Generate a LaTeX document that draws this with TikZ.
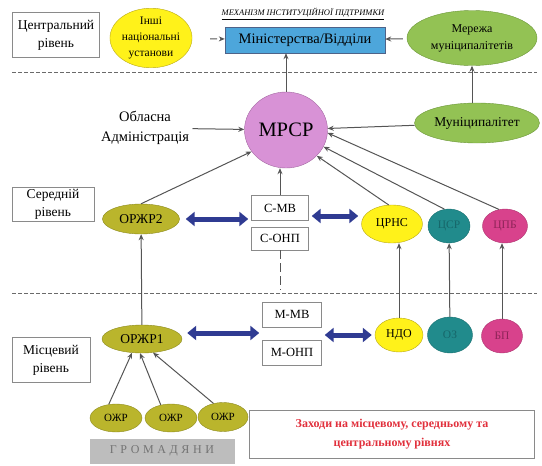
\documentclass[tikz,border=0pt]{standalone}
\usepackage{fontspec}
\setmainfont{Liberation Serif}
\usetikzlibrary{shapes.geometric,arrows.meta}
\definecolor{framegray}{HTML}{8A8A8A}
\definecolor{linegray}{HTML}{555555}
\definecolor{sepgray}{HTML}{6A6A6A}
\definecolor{ministryblue}{HTML}{4DA6DB}
\definecolor{ovyellow}{HTML}{FFF21A}
\definecolor{edgeyellow}{HTML}{B8A818}
\definecolor{ovgreen}{HTML}{93C254}
\definecolor{edgegreen}{HTML}{6B9638}
\definecolor{ovviolet}{HTML}{D892D6}
\definecolor{edgeviolet}{HTML}{A468A2}
\definecolor{ovolive}{HTML}{BAB52C}
\definecolor{edgeolive}{HTML}{8C8A1E}
\definecolor{ovteal}{HTML}{218B8C}
\definecolor{txteal}{HTML}{17676A}
\definecolor{ovpink}{HTML}{D8428C}
\definecolor{txpink}{HTML}{8E2458}
\definecolor{arrowblue}{HTML}{2F3B92}
\definecolor{citizengray}{HTML}{BDBDBD}
\definecolor{measred}{HTML}{E1303C}
\begin{document}
\begin{tikzpicture}[x=1pt,y=-1pt,
    levelbox/.style={draw=framegray,fill=white,align=center,inner sep=0pt,
      font=\fontsize{13.5}{18}\selectfont},
    oval/.style={ellipse,inner sep=0pt,align=center},
    subbox/.style={draw=framegray,fill=white,inner sep=0pt,minimum width=57pt,
      minimum height=25pt,font=\fontsize{12.5}{12}\selectfont},
    link/.style={draw=linegray,line width=1pt,-{Stealth[length=6pt,width=5pt]}},
    twoway/.style={draw=arrowblue,line width=5pt,
      {Triangle[length=9pt,width=14pt]}-{Triangle[length=9pt,width=14pt]},
      shorten <=3pt,shorten >=3pt},
    sep/.style={draw=sepgray,line width=1pt,dash pattern=on 4pt off 2pt}]
  \useasboundingbox (0,0) rectangle (542,466);

  % central level
  \node[levelbox,minimum width=87pt,minimum height=45pt] (central) at (56,35) {Центральний\\рівень};
  \node[oval,fill=ovyellow,draw=edgeyellow,minimum width=72pt,minimum height=48pt,
    font=\fontsize{11.5}{16}\selectfont] (other) at (151,38) {Інші\\національні\\установи};
  \node[font=\fontsize{8.5}{9}\selectfont\itshape] (title) at (303,14) {\underline{МЕХАНІЗМ ІНСТИТУЦІЙНОЇ ПІДТРИМКИ}};
  \node[draw=edgeviolet!40!ministryblue!70!black,fill=ministryblue,minimum width=160pt,
    minimum height=26pt,inner sep=0pt,font=\fontsize{14.5}{14}\selectfont] (ministry) at (305,40) {Міністерства/Відділи};
  \node[oval,fill=ovgreen,draw=edgegreen,minimum width=130pt,minimum height=55pt,
    font=\fontsize{12}{17}\selectfont] (network) at (472,38) {Мережа\\муніципалітетів};
  \draw[sep] (12,72) -- (537,72);

  \node[oval,fill=ovviolet,draw=edgeviolet,minimum width=83pt,minimum height=76pt,
    font=\fontsize{20.5}{20}\selectfont] (mrsr) at (286,130) {МРСР};
  \node[align=center,font=\fontsize{14.5}{20}\selectfont] (oblast) at (145,128) {Обласна\\Адміністрація};
  \node[oval,fill=ovgreen,draw=edgegreen,minimum width=125pt,minimum height=40pt,
    font=\fontsize{13.5}{13}\selectfont] (munic) at (477,123) {Муніципалітет};

  % middle level
  \node[levelbox,minimum width=82pt,minimum height=34pt] (middle) at (53,204) {Середній\\рівень};
  \node[oval,fill=ovolive,draw=edgeolive,minimum width=77pt,minimum height=30pt,
    font=\fontsize{13.5}{13}\selectfont] (orzhr2) at (141,219) {ОРЖР2};
  \node[subbox] (cmv) at (280,208) {С-МВ};
  \node[subbox,minimum height=23pt] (conp) at (280,238.5) {С-ОНП};
  \node[oval,fill=ovyellow,draw=edgeyellow,minimum width=61pt,minimum height=38pt,
    font=\fontsize{12}{12}\selectfont] (crns) at (392,224) {ЦРНС};
  \node[oval,fill=ovteal,draw=ovteal!80!black,text=txteal,minimum width=42pt,minimum height=34pt,
    font=\fontsize{11.5}{11}\selectfont] (csr) at (449,226) {ЦСР};
  \node[oval,fill=ovpink,draw=ovpink!80!black,text=txpink,minimum width=45pt,minimum height=34pt,
    font=\fontsize{11.5}{11}\selectfont] (cpb) at (505,226) {ЦПБ};
  \coordinate (cend) at (280,290);
  \draw[sep] (12,293) -- (537,293);

  % local level
  \node[levelbox,minimum width=78pt,minimum height=45pt] (local) at (51,360) {Місцевий\\рівень};
  \node[oval,fill=ovolive,draw=edgeolive,minimum width=80pt,minimum height=28pt,
    font=\fontsize{13.5}{13}\selectfont] (orzhr1) at (142,339) {ОРЖР1};
  \node[subbox,minimum width=59pt] (mmv) at (292,314.5) {М-МВ};
  \node[subbox,minimum width=59pt] (monp) at (292,352.5) {М-ОНП};
  \node[oval,fill=ovyellow,draw=edgeyellow,minimum width=48pt,minimum height=34pt,
    font=\fontsize{12}{12}\selectfont] (ndo) at (399,335) {НДО};
  \node[oval,fill=ovteal,draw=ovteal!80!black,text=txteal,minimum width=45pt,minimum height=36pt,
    font=\fontsize{11.5}{11}\selectfont] (oz) at (450,335) {ОЗ};
  \node[oval,fill=ovpink,draw=ovpink!80!black,text=txpink,minimum width=41pt,minimum height=34pt,
    font=\fontsize{11.5}{11}\selectfont] (bp) at (502,336) {БП};
  \node[oval,fill=ovolive,draw=edgeolive,minimum width=52pt,minimum height=28pt,
    font=\fontsize{11}{10}\selectfont] (ozhr1) at (116,418) {ОЖР};
  \node[oval,fill=ovolive,draw=edgeolive,minimum width=52pt,minimum height=28pt,
    font=\fontsize{11}{10}\selectfont] (ozhr2) at (171,418) {ОЖР};
  \node[oval,fill=ovolive,draw=edgeolive,minimum width=50pt,minimum height=29pt,
    font=\fontsize{11}{10}\selectfont] (ozhr3) at (223,417) {ОЖР};
  \node[fill=citizengray,minimum width=145pt,minimum height=25pt,inner sep=0pt,text=black!55,
    font=\fontsize{12}{12}\selectfont\addfontfeature{LetterSpace=30}] (citizens) at (162,451) {ГРОМАДЯНИ};
  \node[draw=framegray,minimum width=285pt,minimum height=48pt,inner sep=0pt,align=center,
    text=measred,font=\fontsize{12}{19}\selectfont\bfseries] (measures) at (392,434)
    {Заходи на місцевому, середньому та\\центральному рівнях};

  \begin{scope}
    \draw[link,shorten <=18pt,dash pattern=on 7pt off 3pt] (other) -- (ministry);
    \draw[link,shorten <=4pt] (network) -- (ministry);
    \draw[link] (mrsr.north) -- (mrsr.north |- ministry.south);
    \draw[link] (munic.north -| network.south) -- (network.south);
    \draw[link] (oblast) -- (mrsr);
    \draw[link] (munic) -- (mrsr);
    \draw[link] (orzhr2.north) -- (mrsr.-148);
    \draw[link] (cmv.north) -- (cmv.north |- mrsr.south);
    \draw[link] (crns.100) -- (mrsr.-40);
    \draw[link] (csr.105) -- (mrsr.-24);
    \draw[link] (cpb.110) -- (mrsr.-4);
    \draw[draw=linegray,line width=1pt,dash pattern=on 9pt off 4pt] (conp.south) -- (cend);
    \draw[link] (orzhr1) -- (orzhr2);
    \draw[link] (ndo.north) -- (ndo.north |- crns.south);
    \draw[link] (oz) -- (csr);
    \draw[link] (bp.north) -- (bp.north |- cpb.south);
    \draw[link] (ozhr1.118) -- (orzhr1.-126);
    \draw[link] (ozhr2.128) -- (orzhr1.-98);
    \draw[link] (ozhr3.125) -- (orzhr1.-51);
    \draw[twoway,shorten <=6pt] (orzhr2.east) -- (orzhr2.east -| cmv.west);
    \draw[twoway] ([yshift=-8pt]cmv.east) -- ([yshift=-8pt]cmv.east -| crns.west);
    \draw[twoway,shorten <=5pt] ([yshift=6pt]orzhr1.east) -- ([yshift=6pt]orzhr1.east -| mmv.west);
    \draw[twoway,shorten <=3pt] (ndo.west -| mmv.east) -- (ndo.west);
  \end{scope}
\end{tikzpicture}
\end{document}
